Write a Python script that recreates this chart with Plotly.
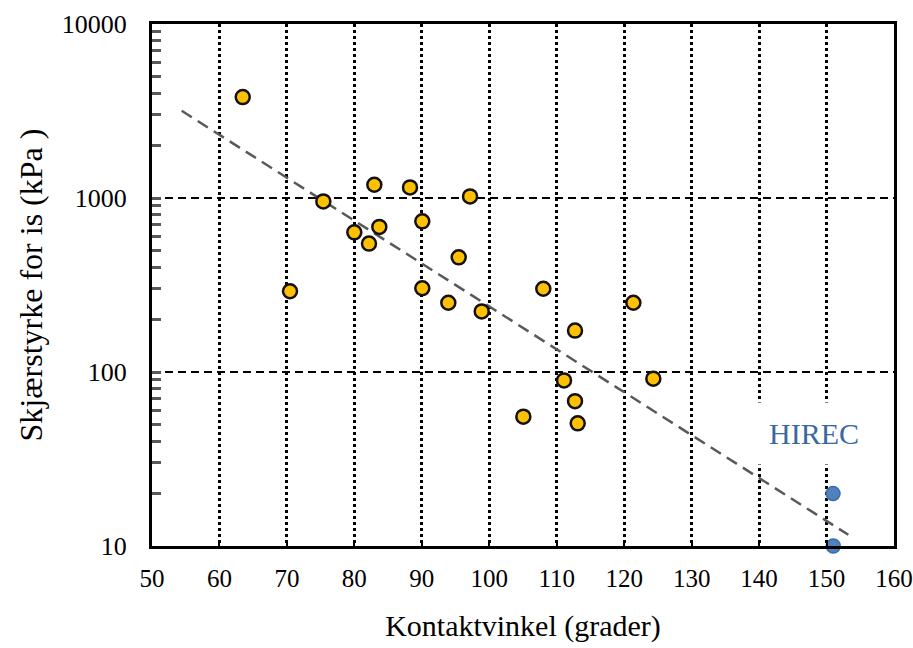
import math
import plotly.graph_objects as go

# Data
contact_angle = [63.45, 70.46, 75.40, 79.99, 82.17, 82.96, 83.70, 88.25, 90.07, 90.07,
                 93.93, 95.47, 97.15, 98.88, 105.05, 108.01, 111.08, 112.71, 112.71,
                 113.11, 121.36, 124.32]
shear_strength = [3800, 291, 956, 635, 547, 1192, 682, 1150, 734, 303,
                  250, 456, 1021, 223, 55.4, 301, 89.5, 173, 68,
                  50.7, 250, 91.6]

hirec_angle = [150.96, 151.0]
hirec_strength = [20.0, 10.0]

trend_x = [54.40, 153.23]
trend_y = [3170, 11.6]

x_ticks = [50, 60, 70, 80, 90, 100, 110, 120, 130, 140, 150, 160]
y_ticks = [10, 100, 1000, 10000]
y_ticktext = ["10", "100", "1000", "10000"]
y_minor = [m * 10 ** k for k in range(1, 4) for m in range(2, 10)]

FONT = "Liberation Serif, serif"

fig = go.Figure()

fig.add_trace(go.Scatter(
    x=trend_x, y=trend_y, mode="lines",
    line=dict(color="#595959", width=2.5, dash="12px,7px"),
    hoverinfo="skip", showlegend=False, cliponaxis=False,
))

fig.add_trace(go.Scatter(
    x=contact_angle, y=shear_strength, mode="markers",
    marker=dict(size=14, color="#FFC000", line=dict(color="#111111", width=2.5)),
    showlegend=False, cliponaxis=False,
))

fig.add_trace(go.Scatter(
    x=hirec_angle, y=hirec_strength, mode="markers",
    marker=dict(size=14, color="#4F81BD", line=dict(color="#3A6CA8", width=1.5)),
    showlegend=False, cliponaxis=False,
))

fig.add_annotation(
    x=148.15, y=math.log10(44.5), xref="x", yref="y",
    text="HIREC", showarrow=False,
    font=dict(family=FONT, size=30, color="#3B68A3"),
    bgcolor="white", borderpad=14,
)

fig.update_xaxes(
    range=[50, 160], tickvals=x_ticks,
    showline=True, linecolor="black", linewidth=3, mirror=True,
    ticks="inside", ticklen=6, tickwidth=2, tickcolor="black",
    showgrid=True, gridcolor="black", gridwidth=3, griddash="dot",
    zeroline=False,
    tickfont=dict(family=FONT, size=25, color="black"),
    ticklabelstandoff=8, ticklabeloverflow="allow",
    title=dict(text="Kontaktvinkel (grader)", standoff=24,
               font=dict(family=FONT, size=30, color="black")),
)

fig.update_yaxes(
    type="log", range=[1, 4],
    tickvals=y_ticks, ticktext=y_ticktext,
    showline=True, linecolor="black", linewidth=3, mirror=True,
    ticks="inside", ticklen=9, tickwidth=2.5, tickcolor="#595959",
    minor=dict(tickvals=y_minor, ticks="inside", ticklen=9, tickwidth=2.5,
               tickcolor="#595959", showgrid=False),
    showgrid=True, gridcolor="black", gridwidth=2, griddash="8px,5px",
    zeroline=False,
    tickfont=dict(family=FONT, size=26, color="black"),
    ticklabelstandoff=17, ticklabeloverflow="allow",
    title=dict(text="Skjærstyrke for is (kPa )", standoff=10,
               font=dict(family=FONT, size=32, color="black")),
)

fig.update_layout(
    width=913, height=648,
    font=dict(family=FONT, color="black"),
    margin=dict(l=152, r=19, t=24, b=102, autoexpand=False),
    paper_bgcolor="white", plot_bgcolor="white",
    showlegend=False,
)

fig.write_html(
    "out.html",
    config={"displayModeBar": False},
    post_script="document.body.style.margin='0';document.body.style.padding='0';",
)
